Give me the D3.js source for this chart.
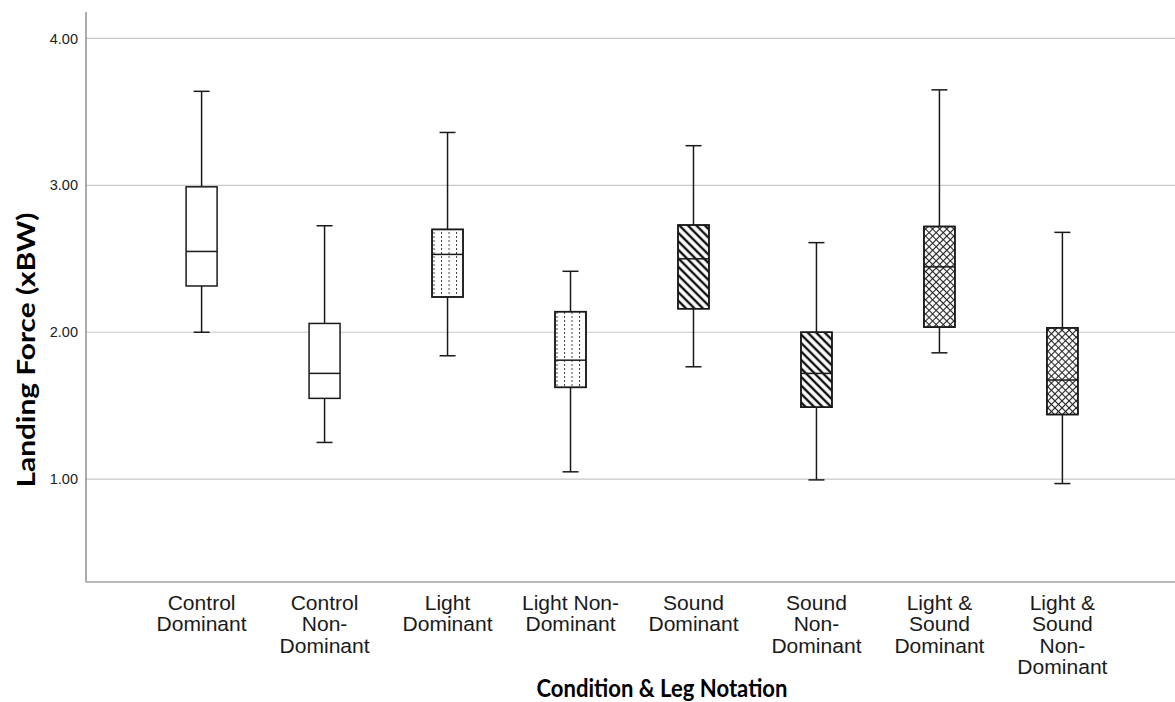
<!DOCTYPE html>
<html>
<head>
<meta charset="utf-8">
<script src="https://cdn.jsdelivr.net/npm/d3@7"></script>
<style>
  body { margin: 0; background: #fff; }
  svg { display: block; }
</style>
</head>
<body>
<svg id="boxplot"></svg>
<script>
// values
const categories = ["Control Dominant", "Control Non-Dominant", "Light Dominant", "Light Non-Dominant",
  "Sound Dominant", "Sound Non-Dominant", "Light & Sound Dominant", "Light & Sound Non-Dominant"];
const labelLines = [
  ["Control", "Dominant"],
  ["Control", "Non-", "Dominant"],
  ["Light", "Dominant"],
  ["Light Non-", "Dominant"],
  ["Sound", "Dominant"],
  ["Sound", "Non-", "Dominant"],
  ["Light &", "Sound", "Dominant"],
  ["Light &", "Sound", "Non-", "Dominant"]
];
const conditions = ["Control", "Control", "Light", "Light", "Sound", "Sound", "Light & Sound", "Light & Sound"];
const whiskerLow  = [2.00, 1.25, 1.84, 1.05, 1.765, 0.995, 1.86, 0.97];
const q1          = [2.315, 1.55, 2.24, 1.625, 2.16, 1.49, 2.035, 1.44];
const median      = [2.55, 1.72, 2.53, 1.81, 2.50, 1.72, 2.445, 1.675];
const q3          = [2.99, 2.06, 2.70, 2.14, 2.73, 2.00, 2.72, 2.03];
const whiskerHigh = [3.64, 2.725, 3.36, 2.415, 3.27, 2.61, 3.65, 2.68];
const yTicks = [1, 2, 3, 4];

const width = 1175, height = 702;
const margin = { top: 12, right: -3, bottom: 120, left: 86 };

const boxData = categories.map((c, i) => ({
  cat: c, cond: conditions[i], lo: whiskerLow[i], q1: q1[i],
  med: median[i], q3: q3[i], hi: whiskerHigh[i], i
}));

const svg = d3.select("#boxplot").attr("width", width).attr("height", height);

const x = d3.scalePoint()
  .domain(categories)
  .range([margin.left, width - margin.right])
  .padding(0.94);

const y = d3.scaleLinear()
  .domain([0.3, 4.18])
  .range([height - margin.bottom, margin.top]);

const boxW = 31, capW = 16;

// patterns, one per box so they line up with the box edge
const defs = svg.append("defs");
boxData.forEach(d => {
  const left = x(d.cat) - boxW / 2;
  if (d.cond === "Light") {
    const p = defs.append("pattern").attr("id", "pat" + d.i)
      .attr("patternUnits", "userSpaceOnUse")
      .attr("x", left + 1.5).attr("y", 0).attr("width", 7.5).attr("height", 4);
    p.append("line").attr("x1", 0.5).attr("x2", 0.5).attr("y1", 0).attr("y2", 2)
      .attr("stroke", "#444").attr("stroke-width", 1);
  } else if (d.cond === "Sound") {
    const p = defs.append("pattern").attr("id", "pat" + d.i)
      .attr("patternUnits", "userSpaceOnUse")
      .attr("x", left).attr("y", 0).attr("width", 6).attr("height", 6)
      .attr("patternTransform", "rotate(-45)");
    p.append("line").attr("x1", 3).attr("x2", 3).attr("y1", 0).attr("y2", 6)
      .attr("stroke", "#111").attr("stroke-width", 2.4);
  } else if (d.cond === "Light & Sound") {
    const p = defs.append("pattern").attr("id", "pat" + d.i)
      .attr("patternUnits", "userSpaceOnUse")
      .attr("x", left).attr("y", 0).attr("width", 5).attr("height", 5)
      .attr("patternTransform", "rotate(45)");
    p.append("line").attr("x1", 2.5).attr("x2", 2.5).attr("y1", 0).attr("y2", 5)
      .attr("stroke", "#222").attr("stroke-width", 1.1);
    p.append("line").attr("x1", 0).attr("x2", 5).attr("y1", 2.5).attr("y2", 2.5)
      .attr("stroke", "#222").attr("stroke-width", 1.1);
  }
});

// gridlines
svg.append("g")
  .selectAll("line")
  .data(yTicks)
  .join("line")
  .attr("x1", margin.left).attr("x2", width)
  .attr("y1", d => y(d)).attr("y2", d => y(d))
  .attr("stroke", "#c8c8c8").attr("stroke-width", 1.2);

// y axis
const yAxis = svg.append("g")
  .attr("transform", `translate(${margin.left},0)`)
  .call(d3.axisLeft(y).tickValues(yTicks).tickFormat(d3.format(".2f")).tickSize(0).tickPadding(8));
yAxis.select(".domain").remove();
yAxis.selectAll("text")
  .attr("font-family", "'Liberation Sans', Arial, sans-serif")
  .attr("font-size", 14.5).attr("fill", "#222");
svg.append("line")
  .attr("x1", margin.left).attr("x2", margin.left)
  .attr("y1", margin.top).attr("y2", height - margin.bottom)
  .attr("stroke", "#777").attr("stroke-width", 1.2);

// x axis line
svg.append("line")
  .attr("x1", margin.left).attr("x2", width)
  .attr("y1", height - margin.bottom).attr("y2", height - margin.bottom)
  .attr("stroke", "#777").attr("stroke-width", 1.2);

// category labels (slightly stretched like the original export)
const labels = svg.append("g")
  .attr("font-family", "'Liberation Sans', Arial, sans-serif")
  .attr("font-size", 19.5).attr("fill", "#1a1a1a")
  .attr("text-anchor", "middle");
labels.selectAll("text")
  .data(boxData)
  .join("text")
  .attr("transform", d => `translate(${x(d.cat)},610) scale(1.08,1)`)
  .selectAll("tspan")
  .data(d => labelLines[d.i])
  .join("tspan")
  .attr("x", 0)
  .attr("dy", (d, k) => k === 0 ? 0 : 21.3)
  .text(d => d);

// boxes
const g = svg.append("g").attr("stroke", "#1a1a1a").attr("stroke-width", 1.5);
const boxes = g.selectAll("g.box").data(boxData).join("g").attr("class", "box");

boxes.append("line")
  .attr("x1", d => x(d.cat)).attr("x2", d => x(d.cat))
  .attr("y1", d => y(d.hi)).attr("y2", d => y(d.q3));
boxes.append("line")
  .attr("x1", d => x(d.cat)).attr("x2", d => x(d.cat))
  .attr("y1", d => y(d.q1)).attr("y2", d => y(d.lo));
boxes.append("line")
  .attr("x1", d => x(d.cat) - capW / 2).attr("x2", d => x(d.cat) + capW / 2)
  .attr("y1", d => y(d.hi)).attr("y2", d => y(d.hi));
boxes.append("line")
  .attr("x1", d => x(d.cat) - capW / 2).attr("x2", d => x(d.cat) + capW / 2)
  .attr("y1", d => y(d.lo)).attr("y2", d => y(d.lo));
boxes.append("rect")
  .attr("x", d => x(d.cat) - boxW / 2)
  .attr("width", boxW)
  .attr("y", d => y(d.q3))
  .attr("height", d => y(d.q1) - y(d.q3))
  .attr("fill", "#fff");
boxes.filter(d => d.cond !== "Control").append("rect")
  .attr("x", d => x(d.cat) - boxW / 2)
  .attr("width", boxW)
  .attr("y", d => y(d.q3))
  .attr("height", d => y(d.q1) - y(d.q3))
  .attr("fill", d => `url(#pat${d.i})`);
boxes.append("line")
  .attr("x1", d => x(d.cat) - boxW / 2).attr("x2", d => x(d.cat) + boxW / 2)
  .attr("y1", d => y(d.med)).attr("y2", d => y(d.med));

// axis titles
svg.append("text")
  .attr("x", 662).attr("y", 697)
  .attr("text-anchor", "middle")
  .attr("font-family", "Lato, 'Open Sans', sans-serif")
  .attr("font-weight", "bold").attr("font-size", 24)
  .attr("textLength", 251).attr("lengthAdjust", "spacingAndGlyphs")
  .text("Condition & Leg Notation");

svg.append("text")
  .attr("transform", "translate(35,350) rotate(-90)")
  .attr("text-anchor", "middle")
  .attr("font-family", "Lato, 'Open Sans', sans-serif")
  .attr("font-weight", "bold").attr("font-size", 24)
  .attr("textLength", 275).attr("lengthAdjust", "spacingAndGlyphs")
  .text("Landing Force (xBW)");
</script>
</body>
</html>
